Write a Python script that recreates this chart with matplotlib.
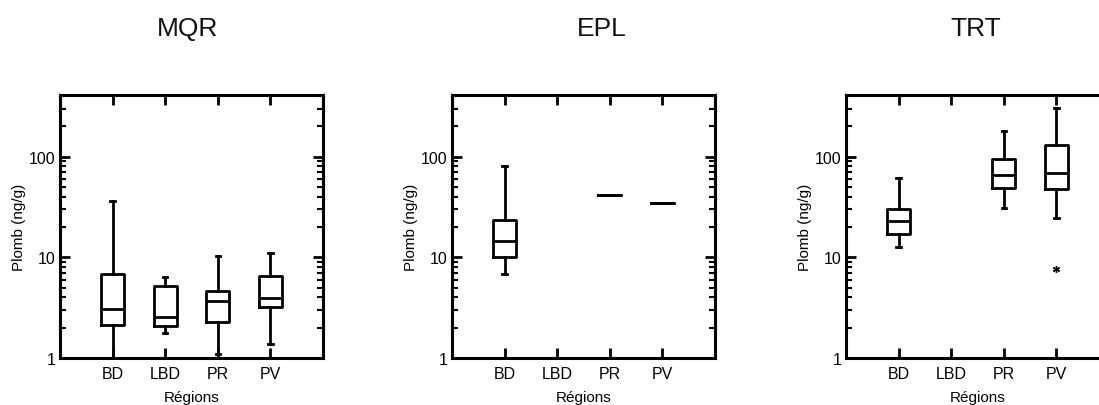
import numpy as np
import matplotlib as mpl
import matplotlib.pyplot as plt
from matplotlib.ticker import LogLocator, NullFormatter, FixedLocator

mpl.rcParams['font.family'] = ['Liberation Sans', 'DejaVu Sans']

regions = ['BD', 'LBD', 'PR', 'PV']
sites = ['MQR', 'EPL', 'TRT']

# box stats: (region, whislo, q1, med, q3, whishi, fliers)
mqr = [('BD', 1.0, 2.15, 3.07, 6.85, 36.5, []),
       ('LBD', 1.76, 2.08, 2.56, 5.17, 6.4, []),
       ('PR', 1.09, 2.30, 3.69, 4.67, 10.4, []),
       ('PV', 1.38, 3.24, 3.95, 6.5, 11.1, [])]
epl = [('BD', 6.85, 10.1, 14.6, 23.5, 80.8, []),
       ('PR', 41.6, 41.6, 41.6, 41.6, 41.6, []),
       ('PV', 34.6, 34.6, 34.6, 34.6, 34.6, [])]
trt = [('BD', 12.6, 17.0, 22.9, 30.4, 61.4, []),
       ('PR', 30.9, 49.2, 65.8, 94.0, 180.0, []),
       ('PV', 24.7, 48.1, 68.2, 131.6, 307.0, [7.7])]

data = [mqr, epl, trt]

ylabel = 'Plomb (ng/g)'
xlabel = 'Régions'

W, H = 1099, 406
fig = plt.figure(figsize=(W / 100, H / 100), dpi=100)

lefts = [60, 452, 846]
title_x = [188, 602, 976]
ax_w, ax_h = 263, 263
ax_bottom = 406 - 359

lw = 2.0
for i, site in enumerate(sites):
    ax = fig.add_axes([lefts[i] / W, ax_bottom / H, ax_w / W, ax_h / H])
    stats = []
    pos = []
    for reg, lo, q1, med, q3, hi, fl in data[i]:
        stats.append(dict(whislo=lo, q1=q1, med=med, q3=q3, whishi=hi, fliers=fl))
        pos.append(regions.index(reg) + 1)
    ax.bxp(stats, positions=pos, widths=0.44, capwidths=0.08,
           boxprops=dict(color='black', linewidth=lw),
           medianprops=dict(color='black', linewidth=lw),
           whiskerprops=dict(color='black', linewidth=lw),
           capprops=dict(color='black', linewidth=lw),
           flierprops=dict(marker=(6, 2, 0), markersize=5, markeredgecolor='black',
                           markeredgewidth=1.0, linestyle='none'),
           manage_ticks=False)
    ax.set_yscale('log')
    ax.set_ylim(1, 410)
    ax.set_xlim(0, 5)
    ax.xaxis.set_major_locator(FixedLocator([1, 2, 3, 4]))
    ax.set_xticklabels(regions)
    ax.yaxis.set_major_locator(FixedLocator([1, 10, 100]))
    ax.set_yticklabels(['1', '10', '100'])
    ax.yaxis.set_minor_locator(LogLocator(base=10, subs=np.arange(2, 10)))
    ax.yaxis.set_minor_formatter(NullFormatter())
    ax.tick_params(which='major', direction='in', length=7, width=2,
                   top=True, right=True, labelsize=11.5, pad=6)
    ax.tick_params(axis='y', which='major', pad=3)
    ax.tick_params(which='minor', direction='in', length=4, width=1.5,
                   right=True, left=True)
    ax.tick_params(axis='x', which='minor', bottom=False, top=False)
    for s in ax.spines.values():
        s.set_linewidth(2.2)
    ax.set_ylabel(ylabel, fontsize=11, labelpad=2)
    ax.set_xlabel(xlabel, fontsize=11, labelpad=6)
    fig.text(title_x[i] / W, (H - 36) / H, site, fontsize=19, ha='center',
             va='baseline', color='#111111')

plt.savefig('out.png', dpi=100)
plt.close()
